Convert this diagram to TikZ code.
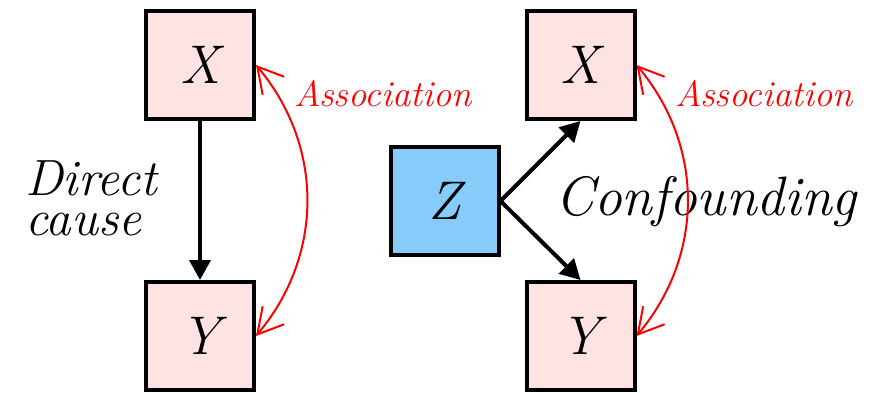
\documentclass[tikz,border=0pt]{standalone}
\usetikzlibrary{arrows.meta}
\definecolor{boxpink}{RGB}{255,226,226}
\definecolor{boxblue}{RGB}{133,204,250}
\tikzset{
  varbox/.style={draw=black, line width=0.08cm, minimum width=2.16cm, minimum height=2.16cm,
    inner sep=0pt, fill=boxpink, font=\rmfamily\fontsize{31}{34}\selectfont\itshape},
  causal/.style={draw=black, line width=0.08cm, -{Triangle[length=0.4cm,width=0.42cm]}},
  assoc/.style={draw=red, line width=0.04cm,
    {Straight Barb[length=0.5cm,width=0.56cm]}-{Straight Barb[length=0.5cm,width=0.56cm]}},
  assoclabel/.style={text=red, anchor=base west, inner sep=0pt, font=\rmfamily\fontsize{20.8}{22}\selectfont\itshape},
  biglabel/.style={text=black, anchor=base west, inner sep=0pt}
}
\begin{document}
\begin{tikzpicture}
\useasboundingbox (0,0) rectangle (17.4,7.84);
% left
\node[varbox] (X1) at (4.0,6.54) {X};
\node[varbox] (Y1) at (4.0,1.12) {Y};
\draw[causal] (X1.south) -- (Y1.north);
\draw[assoc] (X1.east) to[bend left=40] (Y1.east);
\node[assoclabel] (A1) at (5.88,5.72) {Association};
\node[biglabel, align=left, font=\rmfamily\fontsize{29}{22.5}\selectfont\itshape] (D) at (0.50,3.14) {Direct\\cause};
% right
\node[varbox, fill=boxblue] (Z) at (8.89,3.82) {Z};
\node[varbox] (X2) at (11.61,6.54) {X};
\node[varbox] (Y2) at (11.61,1.12) {Y};
\draw[causal] (Z.east) -- (X2.south);
\draw[causal] (Z.east) -- (Y2.north);
\node[biglabel, font=\rmfamily\fontsize{31.6}{34}\selectfont\itshape] (C) at (11.10,3.54) {Confounding};
\draw[assoc] (X2.east) to[bend left=40] (Y2.east);
\node[assoclabel] (A2) at (13.50,5.71) {Association};
\end{tikzpicture}
\end{document}
